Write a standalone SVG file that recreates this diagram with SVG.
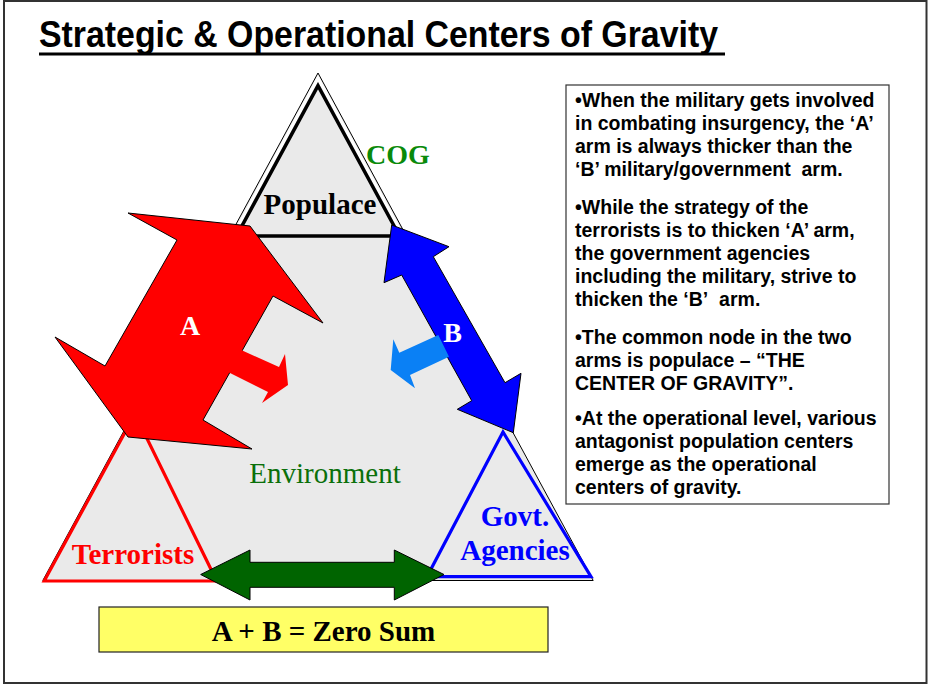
<svg xmlns="http://www.w3.org/2000/svg" width="930" height="684" viewBox="0 0 930 684">
<style>
.serif{font-family:"Liberation Serif","Times New Roman",serif;font-weight:bold}
.sans{font-family:"Liberation Sans",Arial,sans-serif;font-weight:bold}
.body{font-family:"Liberation Sans",Arial,sans-serif;font-weight:bold;font-size:19.5px;fill:#000}
.arrow{stroke:#000;stroke-width:1;stroke-linejoin:miter}
</style>
<rect x="0" y="0" width="930" height="684" fill="#fff"/>
<rect x="4" y="1" width="922.5" height="682" fill="none" stroke="#333" stroke-width="2"/>

<g id="title">
<text class="sans" x="39" y="47" font-size="36.5" textLength="679" lengthAdjust="spacingAndGlyphs">Strategic &amp; Operational Centers of Gravity</text>
<rect x="39" y="52.5" width="686" height="3" fill="#000"/>
</g>

<g id="environment">
<polygon points="318,73 42.8,580.5 593.2,580.5" fill="#EAEAEA" stroke="#000" stroke-width="1"/>
<text x="325" y="483" font-family="'Liberation Serif','Times New Roman',serif" font-size="29" fill="#0A700A" text-anchor="middle">Environment</text>
</g>

<g id="populace">
<polyline points="233,236 318,78.2 403,236" fill="none" stroke="#fff" stroke-width="3"/>
<polygon points="318,85.6 236.5,236 399.5,236" fill="none" stroke="#000" stroke-width="3.5"/>
<text class="serif" x="320" y="214" font-size="29" fill="#000" text-anchor="middle">Populace</text>
</g>

<g id="cog">
<text class="serif" x="398" y="163.5" font-size="28" fill="#0A8A0A" text-anchor="middle">COG</text>
</g>

<g id="terrorists">
<polygon points="44.2,581 135,414 216.7,581" fill="none" stroke="#FF0000" stroke-width="3.2"/>
<text class="serif" x="133" y="564" font-size="29" fill="#FF0000" text-anchor="middle">Terrorists</text>
</g>

<g id="govt">
<polygon points="503,432 427,576.7 591,576.7" fill="none" stroke="#0000FF" stroke-width="3.2"/>
<text class="serif" x="515" y="526" font-size="29" fill="#0000FF" text-anchor="middle">Govt.</text>
<text class="serif" x="515" y="559.5" font-size="29" fill="#0000FF" text-anchor="middle">Agencies</text>
</g>

<g id="connectors">
<g id="arm-a">
<polygon class="arrow" fill="#FF0000" points="128,213 250,226 323,323 273,296 203,420 252,449 128,437 55,337 105,366 177,240"/>
<polygon fill="#FF0000" points="228,372 239,349 279,367 285,354 288,385 262,403 268,392"/>
<text class="serif" x="190" y="335" font-size="28" fill="#fff" text-anchor="middle">A</text>
</g>
<g id="arm-b">
<polygon class="arrow" fill="#0000FF" points="391.7,225 449,246.7 433.3,256.7 505,382.7 521,373.3 513.3,432.7 457.3,409.3 471.7,400.7 401.7,275 384,282.7"/>
<polygon fill="#0A80F5" points="438.3,335 399.3,352.7 393.3,339.3 390.7,370 415,388.3 410,375 449,356.7"/>
<text class="serif" x="452.5" y="341.7" font-size="28" fill="#fff" text-anchor="middle">B</text>
</g>
<g id="zero-sum-arrow">
<polygon class="arrow" fill="#006400" points="200.7,574.5 250,550 250,562.3 394.3,562.3 394.3,550 444,574.5 394.3,600 394.3,587.3 250,587.3 250,600"/>
</g>
</g>

<g id="zero-sum">
<rect x="99" y="607" width="449" height="45" fill="#FFFF66" stroke="#222" stroke-width="1.2"/>
<text class="serif" x="323.5" y="641" font-size="29" fill="#000" text-anchor="middle">A + B = Zero Sum</text>
</g>

<g id="notes">
<rect x="566" y="85" width="323" height="419" fill="#fff" stroke="#333" stroke-width="1.2"/>
<text class="body" x="575">
<tspan x="575" y="107">•When the military gets involved</tspan>
<tspan x="575" y="130">in combating insurgency, the ‘A’</tspan>
<tspan x="575" y="153">arm is always thicker than the</tspan>
<tspan x="575" y="176">‘B’ military/government&#160; arm.</tspan>
<tspan x="575" y="214">•While the strategy of the</tspan>
<tspan x="575" y="237">terrorists is to thicken ‘A’ arm,</tspan>
<tspan x="575" y="260">the government agencies</tspan>
<tspan x="575" y="283">including the military, strive to</tspan>
<tspan x="575" y="306">thicken the ‘B’&#160; arm.</tspan>
<tspan x="575" y="344">•The common node in the two</tspan>
<tspan x="575" y="367">arms is populace – “THE</tspan>
<tspan x="575" y="390">CENTER OF GRAVITY”.</tspan>
<tspan x="575" y="425">•At the operational level, various</tspan>
<tspan x="575" y="448">antagonist population centers</tspan>
<tspan x="575" y="471">emerge as the operational</tspan>
<tspan x="575" y="494">centers of gravity.</tspan>
</text>
</g>
</svg>
